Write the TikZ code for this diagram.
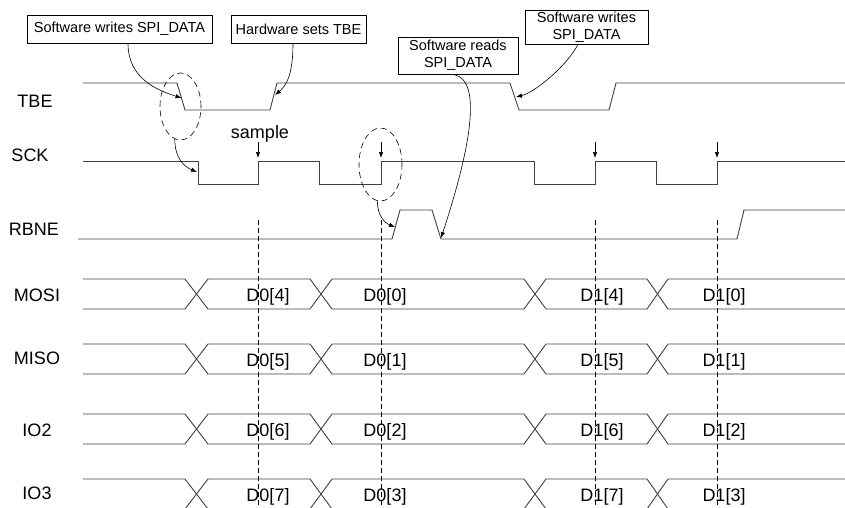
\documentclass[tikz,border=0pt]{standalone}
\usepackage{fontspec}
\setmainfont{Liberation Sans}
\usetikzlibrary{positioning, arrows.meta, shapes.geometric}

\tikzset{
  sig/.style={line width=0.9pt, black!75},
  lbl/.style={font=\fontsize{18}{20}\selectfont, inner sep=0pt},
  note/.style={draw, line width=0.6pt, font=\fontsize{14.5}{17}\selectfont, align=center, inner sep=0pt},
  ring/.style={draw, ellipse, dash pattern=on 6pt off 4pt, line width=0.6pt, inner sep=0pt},
  pointer/.style={-{Latex[length=6pt,width=4.5pt]}, line width=0.6pt},
  sampleline/.style={dash pattern=on 5pt off 3pt, line width=0.6pt}
}

\begin{document}
\begin{tikzpicture}[x=1pt, y=-1pt]
    \useasboundingbox (0,0) rectangle (845,507);

    % signal names
    \foreach \n/\x/\y in {TBE/35/101, SCK/30/155.5, RBNE/34/229.5, MOSI/37/295.5, MISO/37/358, IO2/37/430.5, IO3/37/493.5}
        \node[lbl] (n\n) at (\x,\y) {\n};

    % TBE, SCK, RBNE
    \draw[sig] (83,83) -- (177,83) -- (185,110) -- (270,110) -- (277,83) -- (510,83) -- (519,110) -- (609,110) -- (616,83) -- (845,83);
    \draw[sig] (83,161) -| (198,184) -| (258,161) -| (319,184) -| (381,161) -| (534,184) -| (595,161) -| (656,184) -| (717,161) -- (845,161);
    \draw[sig] (78,239) -- (392,239) -- (400,210) -- (432,210) -- (441,239) -- (737,239) -- (744,210) -- (845,210);

    % sampling points
    \node[lbl] (smp) at (260,133.5) {sample};
    \foreach \x in {258,381,595,717} {
        \draw[pointer] (\x,142) -- (\x,158);
        \draw[sampleline] (\x,220) -- (\x,507);
    }

    % data lines
    \foreach \y/\a/\b in {279/4/0, 344/5/1, 414/6/2, 479/7/3} {
        \draw[sig] (83,\y) -- (185,\y) -- (208,\y+30) -- (310,\y+30) -- (332,\y) -- (524,\y) -- (546,\y+30) -- (647,\y+30) -- (668,\y) -- (845,\y);
        \draw[sig] (83,\y+30) -- (185,\y+30) -- (208,\y) -- (310,\y) -- (332,\y+30) -- (524,\y+30) -- (546,\y) -- (647,\y) -- (668,\y+30) -- (845,\y+30);
        \node[lbl] at (268,\y+18) {D0[\a]};
        \node[lbl] at (385,\y+18) {D0[\b]};
        \node[lbl] at (602,\y+18) {D1[\a]};
        \node[lbl] at (724,\y+18) {D1[\b]};
    }

    % notes
    \node[note, minimum width=185pt, minimum height=28pt] (b1) at (119.5,29) {Software writes SPI\_DATA};
    \node[note, minimum width=135pt, minimum height=28pt] (b2) at (298.5,29) {Hardware sets TBE};
    \node[note, minimum width=120pt, minimum height=37pt] (b3) at (458,55.5) {Software reads\\SPI\_DATA};
    \node[note, minimum width=123pt, minimum height=34pt] (b4) at (586.5,27) {Software writes\\SPI\_DATA};

    \node[ring, minimum width=41pt, minimum height=67pt] (e1) at (180.5,106.5) {};
    \node[ring, minimum width=43pt, minimum height=73pt] (e2) at (380.5,164.5) {};

    \coordinate (tbeFall) at (181.5,98);
    \coordinate (tbeRise) at (275,95);
    \coordinate (sckFall) at (197,172);
    \coordinate (rbneRise) at (395,227);
    \coordinate (rbneFall) at (441,238);
    \coordinate (tbeFall2) at (516,97);

    \draw[pointer] ([xshift=8.5pt]b1.south) .. controls +(0,35) and +(-25,-8) .. (tbeFall);
    \draw[pointer] ([xshift=-5.5pt]b2.south) .. controls +(0,30) and +(12,-10) .. (tbeRise);
    \draw[pointer] (e1.-100) .. controls +(0,20) and +(-12,-5) .. (sckFall);
    \draw[pointer] (e2.-95) .. controls +(0,15) and +(-10,-4) .. (rbneRise);
    \draw[pointer] ([xshift=-8pt]b3.south) .. controls +(35,0) and +(29,-88) .. (rbneFall);
    \draw[pointer] ([xshift=-8.5pt]b4.south) .. controls +(-10,20) and +(20,-5) .. (tbeFall2);
\end{tikzpicture}
\end{document}
